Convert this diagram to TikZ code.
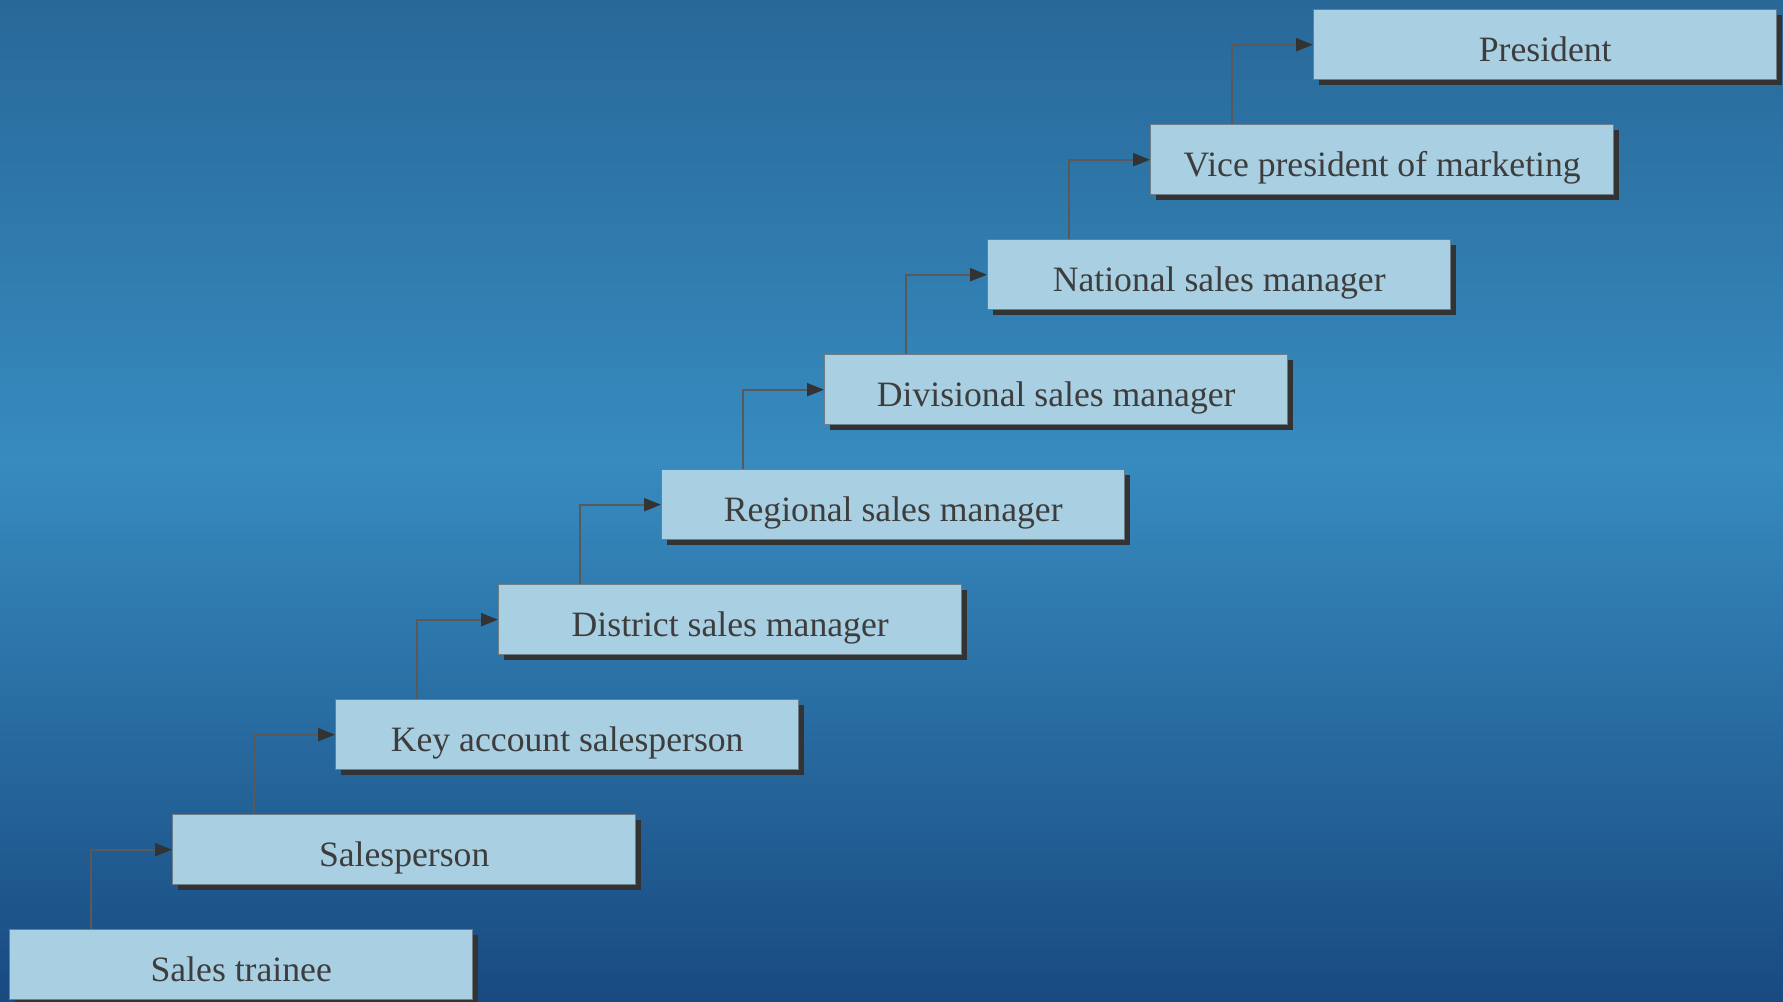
\documentclass[tikz,border=0pt]{standalone}
\usepackage{fontspec}
\setmainfont{Liberation Serif}
\usetikzlibrary{arrows.meta,positioning,shadows}
\definecolor{bgtop}{HTML}{286899}
\definecolor{bgmid}{HTML}{378BBF}
\definecolor{bgbot}{HTML}{184A80}
\definecolor{boxfill}{HTML}{A9CFE2}
\definecolor{boxline}{HTML}{6E7E88}
\definecolor{inkgray}{HTML}{3D3D3D}
\pgfdeclareverticalshading{bgfade}{100bp}{color(0bp)=(bgbot); color(25bp)=(bgbot); color(52bp)=(bgmid); color(75bp)=(bgtop); color(100bp)=(bgtop)}
\tikzset{
  rankbox/.style={draw=boxline, line width=0.4pt, fill=boxfill, minimum width=46.3mm, minimum height=7mm, inner sep=0pt, text height=3.3mm, text depth=0pt, anchor=north west, font=\fontsize{10.15}{12}\selectfont, text=inkgray, drop shadow={shadow xshift=0.5mm, shadow yshift=-0.5mm, fill=black!80, opacity=1}},
  promote/.style={-{Triangle[length=1.7mm,width=1.3mm,color=black!80]}, draw=black!65, line width=0.6pt}
}
\begin{document}
\begin{tikzpicture}
\useasboundingbox (0,0) rectangle (17.83,10.02);
\shade[shading=bgfade] (0,0) rectangle (17.83,10.02);
% career ladder
\foreach \lbl [count=\i from 0] in {Sales trainee, Salesperson, Key account salesperson, District sales manager, Regional sales manager, Divisional sales manager, National sales manager, Vice president of marketing, President}
  \node[rankbox] (r\i) at ({0.09+1.63*\i},{0.73+1.15*\i}) {\lbl};
\foreach \i [count=\j from 1] in {0,...,7}
  \draw[promote] ([xshift=8.2mm]r\i.north west) |- (r\j.west);
\end{tikzpicture}
\end{document}
